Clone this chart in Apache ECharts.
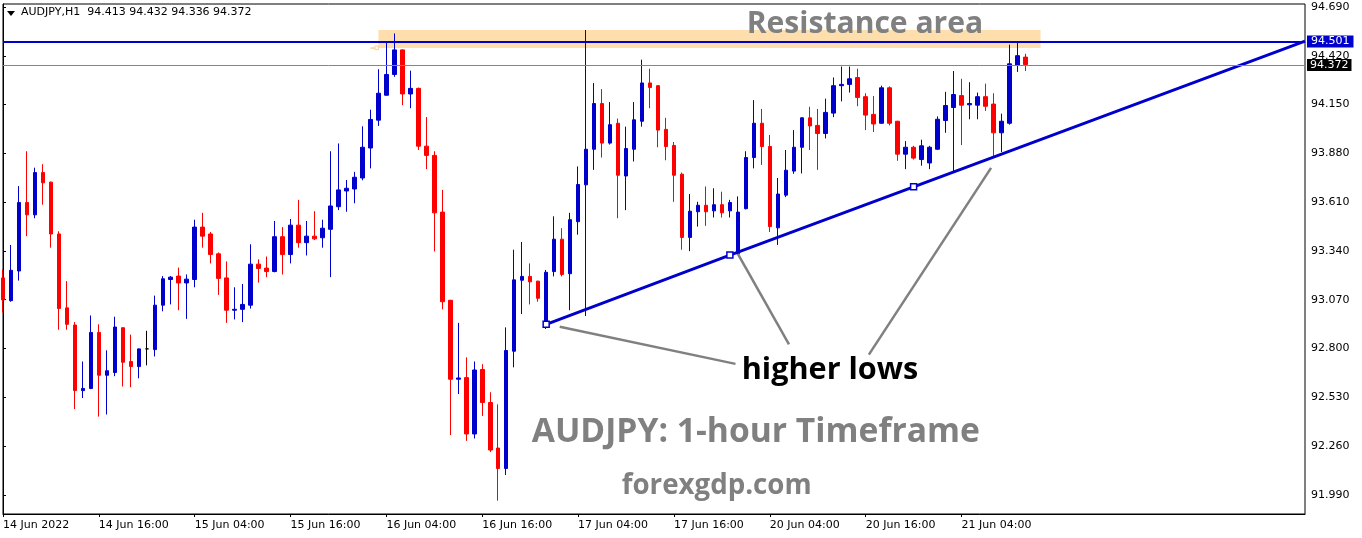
<!DOCTYPE html>
<html><head><meta charset="utf-8">
<script src="https://cdn.jsdelivr.net/npm/echarts@6/dist/echarts.min.js"></script>
<style>html,body{margin:0;padding:0;background:#fff}#c{width:1362px;height:538px}</style>
</head><body><div id="c"></div>
<script>
const symbolName = 'AUDJPY,H1';
const sessions = [['14 Jun', 4, 23], ['15 Jun', 0, 23], ['16 Jun', 0, 23], ['17 Jun', 0, 23], ['20 Jun', 0, 23], ['21 Jun', 0, 12]];
const tickLabels = ['14 Jun 2022', '14 Jun 16:00', '15 Jun 04:00', '15 Jun 16:00', '16 Jun 04:00', '16 Jun 16:00', '17 Jun 04:00', '17 Jun 16:00', '20 Jun 04:00', '20 Jun 16:00', '21 Jun 04:00'];
const yTicks = [94.690, 94.420, 94.150, 93.880, 93.610, 93.340, 93.070, 92.800, 92.530, 92.260, 91.990];

const opens = [93.191,93.065,93.229,93.608,93.540,93.774,93.721,93.434,93.025,92.930,92.567,92.579,92.889,92.652,92.667,92.915,92.728,92.700,92.798,92.794,93.040,93.182,93.201,93.163,93.182,93.472,93.434,93.324,93.191,93.012,93.017,93.040,93.267,93.245,93.226,93.419,93.320,93.483,93.386,93.422,93.413,93.460,93.585,93.672,93.683,93.744,93.910,94.064,94.202,94.317,94.453,94.209,94.240,93.920,93.869,93.555,93.067,92.630,92.639,92.327,92.684,92.501,92.249,92.136,92.785,93.178,93.199,93.173,92.934,93.226,93.405,93.214,93.502,93.706,93.903,94.156,93.937,94.047,93.755,93.903,94.058,94.270,94.255,94.013,93.924,93.765,93.415,93.557,93.593,93.562,93.596,93.562,93.324,93.574,93.857,94.047,93.918,93.468,93.649,93.782,93.914,94.077,94.035,93.990,94.103,94.255,94.262,94.300,94.194,94.096,94.047,94.243,94.058,93.876,93.914,93.846,93.827,93.903,94.062,94.134,94.200,94.149,94.147,94.194,94.153,93.994,94.047,94.368,94.413];
const closes = [93.069,93.233,93.608,93.540,93.774,93.717,93.434,93.021,92.934,92.567,92.579,92.889,92.652,92.677,92.919,92.724,92.700,92.798,92.798,93.040,93.186,93.195,93.163,93.184,93.472,93.422,93.320,93.188,93.012,93.017,93.044,93.267,93.243,93.226,93.419,93.320,93.483,93.386,93.422,93.407,93.466,93.589,93.678,93.687,93.748,93.914,94.068,94.213,94.317,94.453,94.209,94.240,93.920,93.869,93.551,93.059,92.630,92.637,92.327,92.681,92.501,92.238,92.136,92.789,93.180,93.199,93.169,93.078,93.222,93.405,93.210,93.513,93.708,93.903,94.156,93.937,94.039,93.759,93.907,94.066,94.270,94.245,94.009,93.918,93.759,93.415,93.560,93.593,93.557,93.596,93.551,93.608,93.555,93.857,94.047,93.918,93.475,93.655,93.787,93.914,94.077,94.032,93.990,94.107,94.255,94.262,94.293,94.190,94.092,94.043,94.243,94.047,93.876,93.914,93.854,93.922,93.914,94.069,94.145,94.206,94.147,94.156,94.194,94.141,93.994,94.058,94.376,94.421,94.372];
const lows = [92.999,93.059,93.176,93.422,93.521,93.596,93.358,92.904,92.904,92.465,92.526,92.575,92.423,92.435,92.647,92.590,92.586,92.635,92.707,92.756,93.006,93.044,93.012,92.964,93.139,93.358,93.271,93.097,92.942,92.961,92.946,93.021,93.165,93.195,93.222,93.210,93.271,93.358,93.315,93.400,93.358,93.195,93.566,93.557,93.604,93.731,93.797,94.032,94.200,94.304,94.147,94.130,93.899,93.793,93.337,93.017,92.321,92.548,92.289,92.302,92.427,92.227,91.958,92.100,92.696,92.991,93.044,93.059,92.908,93.199,93.199,93.012,93.430,92.980,93.789,93.857,93.929,93.521,93.566,93.835,94.028,94.130,93.914,93.842,93.612,93.347,93.339,93.475,93.479,93.525,93.525,93.525,93.320,93.570,93.797,93.816,93.445,93.373,93.638,93.767,93.769,93.899,93.789,93.963,94.081,94.168,94.217,94.141,94.009,93.998,94.043,94.035,93.839,93.793,93.846,93.812,93.793,93.899,93.994,93.778,93.926,94.069,94.069,94.115,93.861,93.888,94.039,94.331,94.336];
const highs = [93.239,93.373,93.699,93.892,93.801,93.820,93.724,93.449,93.173,92.946,92.728,92.983,92.934,92.790,92.976,92.917,92.877,92.800,92.898,93.093,93.201,93.201,93.248,93.210,93.513,93.551,93.445,93.332,93.282,93.139,93.157,93.377,93.294,93.309,93.506,93.472,93.517,93.623,93.506,93.560,93.513,93.892,93.935,93.733,93.778,94.030,94.122,94.346,94.497,94.544,94.455,94.338,94.244,94.081,93.892,93.678,93.069,92.942,92.751,92.728,92.713,92.558,92.491,92.917,93.347,93.390,93.271,93.175,93.235,93.532,93.466,93.551,93.808,94.563,94.270,94.236,94.164,94.073,94.028,94.164,94.399,94.349,94.257,94.077,93.943,93.774,93.655,93.612,93.697,93.687,93.668,93.623,93.642,93.892,94.175,94.126,93.982,93.744,93.899,94.009,94.079,94.138,94.126,94.183,94.300,94.361,94.361,94.349,94.213,94.198,94.255,94.251,94.060,93.948,93.922,93.956,93.922,94.085,94.221,94.336,94.293,94.274,94.217,94.266,94.213,94.100,94.482,94.501,94.432];

const resistanceLevel = 94.501;
const lastPrice = 94.372;
const resistanceZone = [47, 129.9, 94.563, 94.463];
const trendIdx = [68, 91, 114, 163];
const trendPrice = [92.934, 93.317, 93.695, 94.501];
const pointerLines = [
  [[69.7, 92.921], [91.7, 92.715]],
  [[92.0, 93.324], [98.4, 92.823]],
  [[123.7, 93.800], [108.4, 92.766]]
];
const totalSlots = 164;

const categories = [];
sessions.forEach(([d, h0, h1]) => { for (let h = h0; h <= h1; h++) categories.push(d + ' ' + String(h).padStart(2, '0') + ':00'); });
while (categories.length < totalSlots) categories.push('');

const candleData = opens.map((o, i) => [o, closes[i], lows[i], highs[i]]);
const isTick = (i) => i % 12 === 0 && i / 12 < tickLabels.length;

const FONT = 'DejaVu Sans';
const BLUE = '#0000cd';
const GRAY = '#808080';
const TITLE_FAMILY = '"Open Sans"';

// fit an annotation text to a width and place it on a baseline
const mctx = document.createElement('canvas').getContext('2d');
function fitText(text, left, width, baseline, color) {
  mctx.font = 'bold 100px ' + TITLE_FAMILY;
  const size = 100 * width / mctx.measureText(text).width;
  const font = 'bold ' + size.toFixed(2) + 'px ' + TITLE_FAMILY;
  mctx.font = font;
  mctx.textBaseline = 'middle';
  const d = mctx.measureText('H').actualBoundingBoxDescent;
  return { type: 'text', x: left, y: baseline - d, z: 100, silent: true,
           style: { text: text, fill: color, font: font, verticalAlign: 'middle', align: 'left' } };
}

const chart = echarts.init(document.getElementById('c'), null, { renderer: 'canvas' });
const series = [
  {
    type: 'custom', xAxisIndex: 1, yAxisIndex: 0, z: 1, silent: true, clip: false,
    data: [resistanceZone],
    encode: { x: [0, 1], y: [2, 3] },
    renderItem: (params, api) => {
      const p1 = api.coord([api.value(0), api.value(2)]);
      const p2 = api.coord([api.value(1), api.value(3)]);
      return { type: 'group', children: [
        { type: 'rect', shape: { x: p1[0], y: p1[1], width: p2[0] - p1[0], height: p2[1] - p1[1] }, style: { fill: '#ffdead' } },
        { type: 'line', shape: { x1: p1[0] - 8, y1: p2[1], x2: p1[0] - 3, y2: p2[1] }, style: { stroke: '#f8cf95', lineWidth: 1.5 } },
        { type: 'rect', shape: { x: p1[0] - 3.5, y: p2[1] - 2, width: 3.5, height: 3.5 }, style: { fill: '#fff', stroke: '#f8cf95', lineWidth: 1 } }
      ] };
    }
  },
  {
    type: 'candlestick', xAxisIndex: 0, yAxisIndex: 0, z: 2,
    data: candleData, barWidth: 4, clip: true,
    itemStyle: { color: BLUE, color0: '#ff0000', borderColor: BLUE, borderColor0: '#ff0000', borderColorDoji: '#000000', borderWidth: 1 },
    markLine: {
      silent: true, symbol: ['none', 'none'], animation: false,
      data: [
        { yAxis: resistanceLevel, lineStyle: { color: BLUE, width: 2, type: 'solid' },
          label: { show: true, position: 'end', distance: 2, formatter: () => resistanceLevel.toFixed(3), color: '#fff', backgroundColor: BLUE, padding: [1, 4, 0, 4], fontFamily: FONT, fontSize: 11 } },
        { yAxis: lastPrice, lineStyle: { color: '#778899', width: 1, type: 'solid' },
          label: { show: true, position: 'end', distance: 2, formatter: () => lastPrice.toFixed(3), color: '#fff', backgroundColor: '#000', padding: [1, 3, 0, 3], fontFamily: FONT, fontSize: 11 } }
      ]
    }
  },
  {
    type: 'line', xAxisIndex: 1, yAxisIndex: 0, z: 4, silent: true,
    data: trendIdx.map((x, i) => i < trendIdx.length - 1 ? [x, trendPrice[i]] : { value: [x, trendPrice[i]], symbol: 'none' }),
    symbol: 'rect', symbolSize: 6, showSymbol: true,
    lineStyle: { color: BLUE, width: 3 },
    itemStyle: { color: '#ffffff', borderColor: BLUE, borderWidth: 1.5 }
  }
];
pointerLines.forEach(pts => series.push({
  type: 'line', xAxisIndex: 1, yAxisIndex: 0, z: 3, silent: true, clip: false,
  data: pts, symbol: 'none', lineStyle: { color: GRAY, width: 2.5 }
}));

const option = {
  animation: false,
  backgroundColor: '#ffffff',
  textStyle: { fontFamily: FONT },
  grid: { left: 3, right: 57, top: 4, bottom: 24, show: true, borderColor: '#000', borderWidth: 1, backgroundColor: 'transparent' },
  xAxis: [
    {
      type: 'category', data: categories, boundaryGap: false,
      axisLine: { show: true, lineStyle: { color: '#000', width: 1 } },
      axisTick: { show: true, interval: (i) => isTick(i), length: 3, lineStyle: { color: '#000' } },
      axisLabel: { show: true, interval: (i) => isTick(i), formatter: (v, i) => tickLabels[i / 12], align: 'left', margin: 6, color: '#000', fontSize: 11, fontFamily: FONT },
      splitLine: { show: false }
    },
    { type: 'value', min: 0, max: totalSlots - 1, show: false, gridIndex: 0 }
  ],
  yAxis: {
    type: 'value', position: 'right', min: 91.884, max: 94.707, scale: true,
    axisLine: { show: true, lineStyle: { color: '#000' } },
    axisTick: { show: true, inside: false, length: 3, customValues: yTicks, lineStyle: { color: '#000' } },
    axisLabel: { show: true, customValues: yTicks, formatter: (v) => v.toFixed(3), margin: 6, color: '#000', fontSize: 11, fontFamily: FONT },
    splitLine: { show: false }
  },
  series: series,
  graphic: [
    { type: 'polygon', shape: { points: [[7, 11], [15, 11], [11, 16]] }, style: { fill: '#000' }, z: 100 },
    { type: 'text', left: 21, top: 7, z: 100, style: { text: symbolName + '  ' + [opens[opens.length - 1], highs[highs.length - 1], lows[lows.length - 1], closes[closes.length - 1]].map(v => v.toFixed(3)).join(' '), fill: '#000', font: '11px "DejaVu Sans"' } },
    fitText('Resistance area', 746.7, 236.6, 33.3, GRAY),
    fitText('higher lows', 741.7, 176.6, 379.3, '#000'),
    fitText('AUDJPY: 1-hour Timeframe', 531.7, 448.3, 441.7, GRAY),
    fitText('forexgdp.com', 621.7, 190, 494, GRAY)
  ]
};
chart.setOption(option);
</script>
</body></html>
